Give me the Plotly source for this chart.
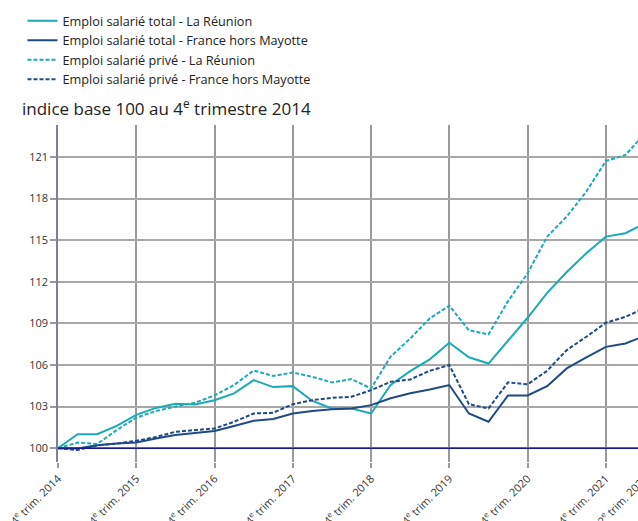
import plotly.graph_objects as go

# trimestres du 4e trim. 2014 au 2e trim. 2022
quarters = ["T4 2014"] + [f"T{q} {y}" for y in range(2015, 2022) for q in (1, 2, 3, 4)] + ["T1 2022", "T2 2022"]

total_reunion = [100.0, 101.0, 101.0, 101.6, 102.4, 102.9, 103.2, 103.15, 103.45, 103.95,
                 104.9, 104.4, 104.47, 103.4, 102.86, 102.86, 102.5, 104.55, 105.55, 106.4,
                 107.6, 106.55, 106.1, 107.75, 109.4, 111.2, 112.7, 114.05, 115.25, 115.5, 116.2]
total_france = [100.0, 99.97, 100.2, 100.33, 100.4, 100.7, 100.94, 101.1, 101.23, 101.6,
                101.97, 102.1, 102.5, 102.67, 102.8, 102.86, 103.1, 103.6, 103.95, 104.23,
                104.55, 102.5, 101.9, 103.8, 103.8, 104.47, 105.75, 106.54, 107.3, 107.55, 108.1]
prive_reunion = [100.0, 100.4, 100.3, 101.3, 102.2, 102.67, 103.0, 103.27, 103.8, 104.55,
                 105.6, 105.2, 105.46, 105.14, 104.74, 104.98, 104.3, 106.6, 107.9, 109.36,
                 110.27, 108.5, 108.2, 110.6, 112.6, 115.25, 116.7, 118.5, 120.7, 121.14, 122.7]
prive_france = [100.0, 99.86, 100.2, 100.33, 100.53, 100.8, 101.18, 101.3, 101.42, 101.9,
                102.5, 102.55, 103.17, 103.46, 103.63, 103.7, 104.18, 104.78, 104.95, 105.58,
                105.99, 103.17, 102.86, 104.74, 104.6, 105.58, 107.07, 108.03, 109.04, 109.47, 110.1]

tick_quarters = ["T4 2014", "T4 2015", "T4 2016", "T4 2017", "T4 2018", "T4 2019", "T4 2020", "T4 2021", "T2 2022"]
tick_labels = ["4<sup>e</sup> trim. 2014", "4<sup>e</sup> trim. 2015", "4<sup>e</sup> trim. 2016",
               "4<sup>e</sup> trim. 2017", "4<sup>e</sup> trim. 2018", "4<sup>e</sup> trim. 2019",
               "4<sup>e</sup> trim. 2020", "4<sup>e</sup> trim. 2021", "2<sup>e</sup> trim. 2022"]

CYAN = "#1aabb5"
NAVY = "#1f4a85"

fig = go.Figure()
series = [
    ("Emploi salarié total - La Réunion", total_reunion, CYAN, "solid"),
    ("Emploi salarié total - France hors Mayotte", total_france, NAVY, "solid"),
    ("Emploi salarié privé - La Réunion", prive_reunion, CYAN, "4px,2px"),
    ("Emploi salarié privé - France hors Mayotte", prive_france, NAVY, "4px,2px"),
]
for name, vals, color, dash in series:
    fig.add_trace(go.Scatter(x=quarters, y=vals, name=name, mode="lines",
                             line=dict(color=color, width=2, dash=dash)))

# ligne de base 100
fig.add_hline(y=100, line=dict(color="#1a1a8a", width=1.5))

fig.add_annotation(text="indice base 100 au 4<sup>e</sup> trimestre 2014",
                   xref="paper", yref="paper", x=-0.0647, y=1.051, xanchor="left", yanchor="middle",
                   showarrow=False, font=dict(size=17, color="#222"))

# graphique un peu plus large que la fenêtre : le dernier trimestre est rogné à droite
fig.update_layout(
    width=645, height=521,
    margin=dict(l=58, r=0, t=125, b=59, autoexpand=False),
    plot_bgcolor="white", paper_bgcolor="white",
    font=dict(family="Open Sans", color="#333", size=12),
    showlegend=True,
    legend=dict(x=-0.0605, y=1.353, xanchor="left", yanchor="top",
                font=dict(size=12.7, color="#222"), itemwidth=30, tracegroupgap=0,
                bgcolor="rgba(0,0,0,0)"),
)
fig.update_xaxes(
    type="category", range=[0, 30],
    tickmode="array", tickvals=tick_quarters, ticktext=tick_labels, tickangle=-45,
    tickfont=dict(size=11, color="#333"),
    showgrid=True, gridcolor="#999999", gridwidth=1.5,
    ticks="outside", ticklen=5, tickcolor="#999999", tickwidth=1.5,
    showline=False, zeroline=False,
)
fig.update_yaxes(
    range=[99, 123.3], tickvals=[100, 103, 106, 109, 112, 115, 118, 121],
    tickfont=dict(size=11, color="#333"),
    showgrid=True, gridcolor="#a8a8a8", gridwidth=1.5,
    ticks="outside", ticklen=6, tickcolor="#999999", tickwidth=1.5,
    showline=True, linecolor="#7d8099", linewidth=1.5, zeroline=False,
)

fig.write_html("out.html", config={"displayModeBar": False},
               post_script="document.body.style.margin='0';document.body.style.overflow='hidden';")
